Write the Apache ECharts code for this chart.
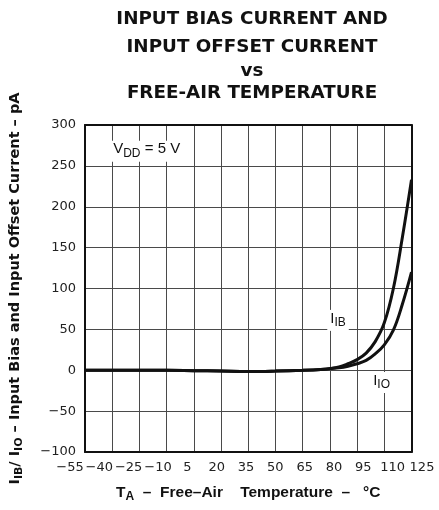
<!DOCTYPE html>
<html>
<head>
<meta charset="utf-8">
<script src="https://cdn.jsdelivr.net/npm/echarts@6/dist/echarts.min.js"></script>
<style>
html,body{margin:0;padding:0;background:#fff;}
#c{width:439px;height:510px;}
</style>
</head>
<body>
<div id="c"></div>
<script>
// ---- data ----
var titleLines = ['INPUT BIAS CURRENT AND', 'INPUT OFFSET CURRENT', 'vs', 'FREE-AIR TEMPERATURE'];
var temps = [-55, -40, -25, -10, 5, 20, 35, 50, 65, 75, 80, 85, 90, 95, 100, 105, 110, 115, 120, 125];
var iib   = [0, 0, 0, 0, -0.5, -1, -1.5, -1, 0, 1, 2, 4, 8, 13, 21, 35, 58, 100, 163, 233];
var iio   = [0, 0, 0, 0, -0.5, -1, -1.5, -1, 0, 1, 2, 3, 5, 8, 12, 20, 31, 49, 81, 120];
var xMin = -55, xMax = 125, xStep = 15;
var yMin = -100, yMax = 300, yStep = 50;
// annotation anchors in data units [temperature, current]
var vddPos = [-21, 268];
var ibPos  = [84.5, 61];
var ioPos  = [108.5, -15];

var chart = echarts.init(document.getElementById('c'), null, {renderer: 'canvas'});
var minus = function (v) { return String(v).replace('-', '\u2212'); };
var SANS = 'Arial, "Liberation Sans", sans-serif';
var TFONT = '"DejaVu Sans", sans-serif';
var titleTops = [5, 33.5, 57, 79];
var titles = titleLines.map(function (t, i) {
  return {
    text: t, left: 247, top: titleTops[i], textAlign: 'center',
    textStyle: {fontFamily: TFONT, fontWeight: 'bold', fontSize: 18.3, color: '#111'}
  };
});
function series(name, data) {
  return {
    name: name, type: 'line', xAxisIndex: 0, yAxisIndex: 0,
    data: temps.map(function (t, i) { return [t, data[i]]; }),
    smooth: 0.4, showSymbol: false, symbol: 'none',
    lineStyle: {color: '#111', width: 3}, z: 6
  };
}
var subRich = {
  b: {fontFamily: SANS, fontSize: 15, color: '#111', verticalAlign: 'top', lineHeight: 17},
  s: {fontFamily: SANS, fontSize: 12, color: '#111', verticalAlign: 'top', lineHeight: 17, padding: [6, 0, 0, 0]}
};
var option = {
  animation: false,
  backgroundColor: '#fff',
  title: titles,
  grid: [
    {left: 85, right: 27.5, top: 125, bottom: 58, show: false},
    {left: 70, right: 17, top: 125, bottom: 58, show: false}
  ],
  xAxis: [
    {type: 'value', gridIndex: 0, min: xMin, max: xMax, interval: xStep,
     axisLine: {show: true, onZero: false, lineStyle: {color: '#111', width: 2}},
     axisTick: {show: false}, axisLabel: {show: false},
     splitLine: {show: true, lineStyle: {color: '#4a4a4a', width: 1}},
     name: '{b|T}{s|A}{b|  \u2013  Free\u2013Air    Temperature  \u2013   \u00B0C}',
     nameLocation: 'middle', nameGap: 33,
     nameTextStyle: {rich: {
       b: {fontFamily: SANS, fontWeight: 'bold', fontSize: 15.5, color: '#111', verticalAlign: 'top', lineHeight: 17},
       s: {fontFamily: SANS, fontWeight: 'bold', fontSize: 12, color: '#111', verticalAlign: 'top', lineHeight: 17, padding: [6, 0, 0, 0]}
     }}, z: 5},
    {type: 'value', gridIndex: 0, position: 'top', min: xMin, max: xMax, interval: xStep,
     axisLine: {show: true, onZero: false, lineStyle: {color: '#111', width: 2}},
     axisTick: {show: false}, axisLabel: {show: false}, splitLine: {show: false}, z: 5},
    {type: 'value', gridIndex: 1, min: xMin, max: xMax, interval: xStep,
     axisLine: {show: false}, axisTick: {show: false}, splitLine: {show: false},
     axisLabel: {show: true, margin: 9, fontFamily: TFONT, fontSize: 13, color: '#222', formatter: minus}}
  ],
  yAxis: [
    {type: 'value', gridIndex: 0, min: yMin, max: yMax, interval: yStep,
     axisLine: {show: true, onZero: false, lineStyle: {color: '#111', width: 2}},
     axisTick: {show: false},
     axisLabel: {show: true, margin: 9, fontFamily: TFONT, fontSize: 13, color: '#222', formatter: minus},
     splitLine: {show: true, lineStyle: {color: '#4a4a4a', width: 1}},
     name: '{b|I}{s|IB}{b|/ I}{s|IO}{b| \u2013 Input Bias and Input Offset Current \u2013 pA}',
     nameLocation: 'middle', nameGap: 60, nameRotate: 90,
     nameTextStyle: {rich: {
       b: {fontFamily: TFONT, fontWeight: 'bold', fontSize: 14.5, color: '#111', verticalAlign: 'top', lineHeight: 17},
       s: {fontFamily: TFONT, fontWeight: 'bold', fontSize: 11, color: '#111', verticalAlign: 'top', lineHeight: 17, padding: [6, 0, 0, 0]}
     }}, z: 5},
    {type: 'value', gridIndex: 0, position: 'right', min: yMin, max: yMax, interval: yStep,
     axisLine: {show: true, onZero: false, lineStyle: {color: '#111', width: 2}},
     axisTick: {show: false}, axisLabel: {show: false}, splitLine: {show: false}, z: 5},
    {type: 'value', gridIndex: 1, min: yMin, max: yMax, show: false}
  ],
  series: [
    series('IIB', iib),
    series('IIO', iio),
    {type: 'scatter', xAxisIndex: 0, yAxisIndex: 0, symbolSize: 0, z: 10, silent: true,
     itemStyle: {opacity: 1},
     data: [
       {value: vddPos, label: {formatter: '{b|V}{s|DD}{b| = 5 V}'}},
       {value: ibPos, label: {formatter: '{b|I}{s|IB}'}},
       {value: ioPos, label: {formatter: '{b|I}{s|IO}'}}
     ],
     label: {show: true, position: 'inside', color: '#111', opacity: 1, backgroundColor: '#fff', padding: [1, 3, 3, 3], rich: subRich}}
  ]
};
chart.setOption(option);
</script>
</body>
</html>
